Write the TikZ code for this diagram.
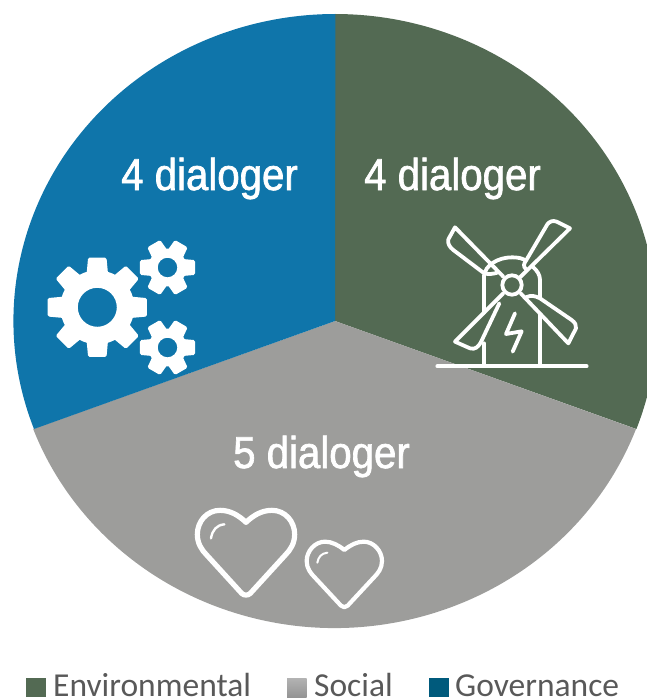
\documentclass[tikz,border=0pt]{standalone}
\usepackage{fontspec}
\setmainfont{Carlito}
\newfontfamily\labelfont[FakeStretch=0.9,FakeBold=1.5]{Liberation Sans}
\definecolor{envgreen}{HTML}{536A53}
\definecolor{socgray}{HTML}{9D9D9B}
\definecolor{govblue}{HTML}{0F75AA}
\definecolor{legblue}{HTML}{005A7C}
\definecolor{legtext}{HTML}{595959}
\tikzset{
  wedgelabel/.style={anchor=base west,inner sep=0pt,text=white,font=\labelfont\fontsize{44.7}{44.7}\selectfont},
  legendlabel/.style={anchor=base west,inner sep=0pt,text=legtext,font=\fontsize{33.5}{33.5}\selectfont},
  legendbox/.style={anchor=north west,inner sep=0pt,minimum width=19.5pt,minimum height=19pt},
  iconline/.style={draw=white,line cap=round,line join=round,line width=3.8pt},
  heartline/.style={draw=white,line cap=round,line join=round,line width=5.2pt},
  smallheartline/.style={draw=white,line cap=round,line join=round,line width=4.2pt},
  gearfill/.style={fill=white,even odd rule}
}
% centre x, centre y, teeth, outer r, root r, half tooth angle outer, half tooth angle root, hole r
\newcommand{\gearshape}[8]{%
  \pgfmathsetmacro{\gstep}{360/#3}
  \pgfmathsetmacro{\gnext}{2*\gstep}
  \pgfmathsetmacro{\glast}{360-\gstep}
  \fill[gearfill,shift={(#1,#2)}] (-#7:#5)
    \foreach \ga in {0,\gstep,...,\glast}{
      -- (\ga-#7:#5) [rounded corners=1.5pt] -- (\ga-#6:#4) -- (\ga+#6:#4) [sharp corners] -- (\ga+#7:#5) 
      arc[start angle=\ga+#7,delta angle=\gstep-2*#7,radius=#5]
    } -- cycle (0,0) circle[radius=#8];
}
\begin{document}
\begin{tikzpicture}[x=1pt,y=1pt,yscale=-1]
\useasboundingbox (0,0) rectangle (647,699);
\begin{scope}
\clip (0,0) rectangle (647,699);
\fill[envgreen] (335,321) -- (335,14) arc[start angle=-90,end angle=20.6,x radius=322,y radius=307] -- cycle;
\fill[socgray] (335,321) -- (636,429) arc[start angle=20.6,end angle=159.4,x radius=322,y radius=307] -- cycle;
\fill[govblue] (335,321) -- (34,429) arc[start angle=159.4,end angle=270,x radius=322,y radius=307] -- cycle;
\end{scope}
\node[wedgelabel] (gov) at (121,190) {4 dialoger};
\node[wedgelabel] (env) at (364,190) {4 dialoger};
\node[wedgelabel] (soc) at (233,468) {5 dialoger};
% gears
\gearshape{97.3}{307.3}{8}{50.5}{37}{10.5}{16.5}{19.5}
\gearshape{167.5}{267.5}{6}{28.5}{19}{15}{26}{9.8}
\gearshape{167.5}{347.5}{6}{28.5}{19}{15}{26}{9.8}
% windmill
\begin{scope}[shift={(420,200)},scale=0.33333]
\draw[iconline] (52,499) -- (500,499);
\draw[iconline] (192,495) -- (192,430);
\draw[iconline] (192,340) -- (192,228) .. controls (195,195) and (235,172) .. (276,172) .. controls (295,172) and (305,175) .. (315,180);
\draw[iconline] (338,200) .. controls (352,212) and (360,225) .. (360,240) -- (360,292);
\draw[iconline] (360,345) -- (360,495);
\draw[iconline] (276,255) circle[radius=29];
% upper left blade
\draw[iconline] (250,230) -- (105,82) -- (85,118) .. controls (82,132) and (90,142) .. (100,150) -- (190,218) .. controls (202,225) and (220,222) .. (235,217);
% upper right blade
\draw[iconline] (300,232) -- (450,85) -- (410,65) .. controls (398,60) and (388,65) .. (382,73) -- (318,182) .. controls (312,190) and (308,198) .. (318,208);
% lower right blade
\draw[iconline] (302,280) -- (445,430) -- (468,385) .. controls (470,375) and (465,368) .. (455,360) -- (360,295) .. controls (345,287) and (332,285) .. (318,292);
% lower left blade
\draw[iconline] (250,280) -- (105,425) -- (150,445) .. controls (165,450) and (175,440) .. (182,428) -- (238,310);
% bolt
\draw[iconline] (285,340) -- (258,402) -- (305,394) -- (278,455);
\end{scope}
% hearts
\begin{scope}[shift={(180,495)},scale=0.33333]
\draw[heartline] (198,82) .. controls (175,60) and (150,46) .. (120,46) .. controls (80,46) and (52,80) .. (52,118) .. controls (52,145) and (65,165) .. (80,180) -- (185,295) .. controls (192,302) and (204,302) .. (211,295) -- (316,180) .. controls (331,165) and (344,145) .. (344,118) .. controls (344,80) and (316,46) .. (276,46) .. controls (246,46) and (221,60) .. (198,82) -- cycle;
\draw[draw=white,line cap=round,line width=2.4pt] (93,130) .. controls (97,105) and (110,90) .. (133,88);
\draw[smallheartline] (493,165) .. controls (475,150) and (455,140) .. (435,140) .. controls (405,140) and (380,168) .. (380,198) .. controls (380,220) and (392,235) .. (405,248) -- (483,332) .. controls (489,338) and (497,338) .. (503,332) -- (581,248) .. controls (594,235) and (606,220) .. (606,198) .. controls (606,168) and (581,140) .. (551,140) .. controls (531,140) and (511,150) .. (493,165) -- cycle;
\draw[draw=white,line cap=round,line width=2pt] (412,203) .. controls (415,185) and (425,175) .. (442,173);
\end{scope}
% legend
\node[legendbox,fill=envgreen] (l1) at (26,678) {};
\node[legendbox,top color=black!30,bottom color=black!42] (l2) at (287,678) {};
\node[legendbox,fill=legblue] (l3) at (429,678) {};
\node[legendlabel] (t1) at (53,696) {Environmental};
\node[legendlabel] (t2) at (314,696) {Social};
\node[legendlabel] (t3) at (455,696) {Governance};
\end{tikzpicture}
\end{document}
